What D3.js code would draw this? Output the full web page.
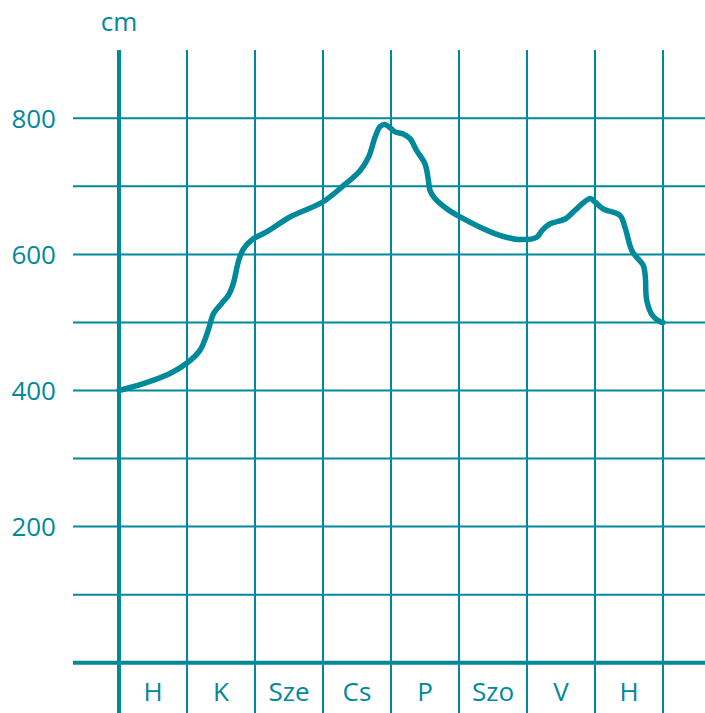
<!DOCTYPE html>
<html>
<head>
<meta charset="utf-8">
<script src="https://cdn.jsdelivr.net/npm/d3@7"></script>
<style>
  html, body { margin: 0; padding: 0; background: #fff; }
  svg { display: block; }
  text { font-family: "Open Sans", "Noto Sans", sans-serif; fill: #00899b; }
</style>
</head>
<body>
<svg id="chart" width="705" height="713"></svg>
<script>
// Month columns (position index along x), water level in cm
const months = ["H", "K", "Sze", "Cs", "P", "Szo", "V", "H"];
const yTickLabels = [200, 400, 600, 800];
const yGridValues = [100, 200, 300, 400, 500, 600, 700, 800];
const monthPos = [0, 0.357, 0.75, 0.996, 1.19, 1.31, 1.39, 1.51, 1.61, 1.68, 1.76, 1.83, 1.975, 2.17, 2.515, 2.995, 3.30, 3.544, 3.67, 3.765, 3.84, 3.91, 3.975, 4.06, 4.18, 4.28, 4.38, 4.5, 4.55, 4.574, 4.647, 4.82, 5.015, 5.31, 5.60, 5.87, 6.14, 6.22, 6.34, 6.56, 6.73, 6.93, 7.0, 7.12, 7.37, 7.44, 7.54, 7.61, 7.71, 7.74, 7.76, 7.84, 7.96, 8.0];
const levelCm = [400, 410, 425, 440, 459, 488, 513, 528, 540, 557, 591, 608, 623, 633, 655, 677, 701, 723, 743, 772, 788, 791, 787, 780, 777, 770, 752, 733, 709, 694, 682, 667, 655, 640, 628, 622, 625, 635, 645, 652, 667, 682, 677, 667, 657, 640, 606, 596, 584, 567, 533, 511, 501, 500];

const color = "#00899b";
const svg = d3.select("#chart");

const x = d3.scaleLinear().domain([0, 8]).range([119, 663]);
const y = d3.scaleLinear().domain([0, 800]).range([662.7, 118.3]);

const gridLeft = 73, gridRight = 705, gridTop = 50, gridBottom = 713;

// horizontal grid
svg.append("g").selectAll("line").data(yGridValues).join("line")
  .attr("x1", gridLeft).attr("x2", gridRight)
  .attr("y1", d => y(d)).attr("y2", d => y(d))
  .attr("stroke", color).attr("stroke-width", 2);

// vertical grid (month boundaries)
svg.append("g").selectAll("line").data(d3.range(1, 9)).join("line")
  .attr("x1", d => x(d)).attr("x2", d => x(d))
  .attr("y1", gridTop).attr("y2", gridBottom)
  .attr("stroke", color).attr("stroke-width", 2);

// axes
svg.append("line")
  .attr("x1", gridLeft).attr("x2", gridRight)
  .attr("y1", y(0)).attr("y2", y(0))
  .attr("stroke", color).attr("stroke-width", 4);
svg.append("line")
  .attr("x1", x(0)).attr("x2", x(0))
  .attr("y1", gridTop).attr("y2", gridBottom)
  .attr("stroke", color).attr("stroke-width", 4);

// y tick labels
svg.append("g").selectAll("text").data(yTickLabels).join("text")
  .attr("x", 56).attr("y", d => y(d))
  .attr("dy", "0.36em")
  .attr("text-anchor", "end")
  .attr("font-size", 26)
  .text(d => d);

// unit label
svg.append("text")
  .attr("x", x(0)).attr("y", 31)
  .attr("text-anchor", "middle")
  .attr("font-size", 26)
  .text("cm");

// month labels
svg.append("g").selectAll("text").data(months).join("text")
  .attr("x", (d, i) => x(i + 0.5)).attr("y", 701)
  .attr("text-anchor", "middle")
  .attr("font-size", 26)
  .text(d => d);

// water level curve
const points = monthPos.map((m, i) => [m, levelCm[i]]);
const line = d3.line()
  .x(d => x(d[0])).y(d => y(d[1]))
  .curve(d3.curveCatmullRom.alpha(0.5));
svg.append("path")
  .datum(points)
  .attr("d", line)
  .attr("fill", "none")
  .attr("stroke", color)
  .attr("stroke-width", 5.5)
  .attr("stroke-linecap", "round")
  .attr("stroke-linejoin", "round");
</script>
</body>
</html>
